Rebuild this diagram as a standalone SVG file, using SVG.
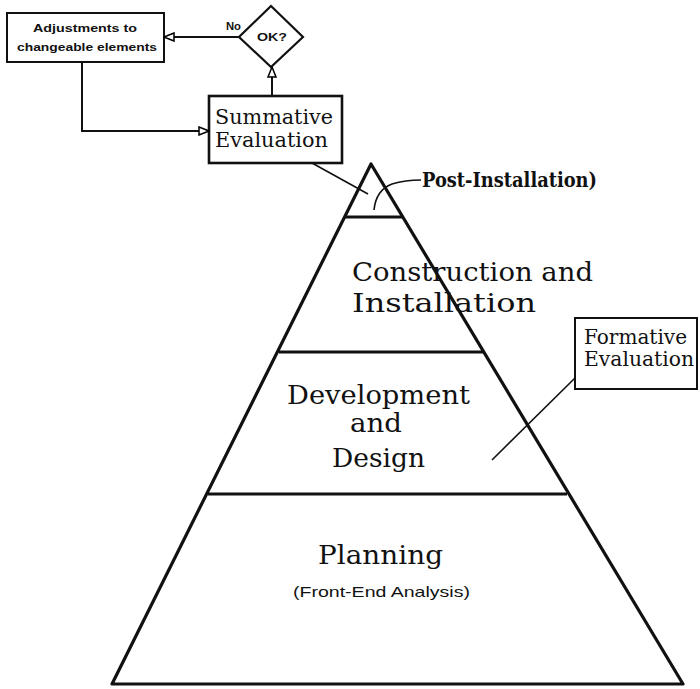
<svg xmlns="http://www.w3.org/2000/svg" width="700" height="689" viewBox="0 0 700 689">
<defs>
<marker id="arr" viewBox="0 0 12 10" refX="11" refY="5" markerWidth="12" markerHeight="10" markerUnits="userSpaceOnUse" orient="auto">
<path d="M1,1 L11,5 L1,9 Z" fill="#fff" stroke="#000" stroke-width="1.5"/>
</marker>
<style>
.edge{stroke:#111;stroke-width:3.2;fill:none;stroke-linejoin:round}
.band{stroke:#111;stroke-width:3;fill:none}
.thin{stroke:#111;stroke-width:1.6;fill:none}
.conn{stroke:#111;stroke-width:2;fill:none}
.big{font-family:"DejaVu Serif","Liberation Serif",serif;font-size:26px;fill:#111}
.mid{font-family:"DejaVu Serif","Liberation Serif",serif;font-size:20px;fill:#111}
.hand{font-family:"Liberation Sans",Arial,sans-serif;font-weight:bold;fill:#111}
.sans{font-family:"Liberation Sans",Arial,sans-serif;fill:#111}
</style>
</defs>
<rect width="700" height="689" fill="#fff"/>

<g id="pyramid">
<polygon class="edge" points="371,164 683,684 112,684"/>
<line class="band" x1="345" y1="217" x2="402" y2="217"/>
<line class="band" x1="279" y1="352" x2="484" y2="352"/>
<line class="band" x1="208" y1="494" x2="567" y2="494"/>
</g>

<g id="post-installation">
<path class="thin" d="M374,210 Q376,190 392,184 Q405,180 421,180"/>
<text class="mid" x="422" y="187" font-weight="bold" textLength="175" lengthAdjust="spacingAndGlyphs">Post-Installation)</text>
</g>

<g id="construction">
<text class="big" x="352" y="281" textLength="241" lengthAdjust="spacingAndGlyphs">Construction and</text>
<text class="big" x="352" y="312" textLength="184" lengthAdjust="spacingAndGlyphs">Installation</text>
</g>

<g id="development">
<text class="big" x="287" y="404" textLength="183" lengthAdjust="spacingAndGlyphs">Development</text>
<text class="big" x="350" y="432" textLength="52" lengthAdjust="spacingAndGlyphs">and</text>
<text class="big" x="332" y="467" textLength="93" lengthAdjust="spacingAndGlyphs">Design</text>
</g>

<g id="planning">
<text class="big" x="318" y="564" textLength="125" lengthAdjust="spacingAndGlyphs">Planning</text>
<text class="sans" x="293" y="597" font-size="15" textLength="177" lengthAdjust="spacingAndGlyphs">(Front-End Analysis)</text>
</g>

<g id="formative">
<rect x="575" y="318" width="122" height="71" fill="#fff" stroke="#111" stroke-width="2"/>
<text class="mid" x="584" y="344" font-size="16.5" textLength="103" lengthAdjust="spacingAndGlyphs">Formative</text>
<text class="mid" x="584" y="366" font-size="16.5" textLength="110" lengthAdjust="spacingAndGlyphs">Evaluation</text>
</g>

<g id="summative">
<rect x="209" y="96" width="133" height="67" fill="#fff" stroke="#111" stroke-width="2.6"/>
<text class="mid" x="215" y="124" font-size="21" textLength="118" lengthAdjust="spacingAndGlyphs">Summative</text>
<text class="mid" x="215" y="147" font-size="21" textLength="113" lengthAdjust="spacingAndGlyphs">Evaluation</text>
</g>

<g id="ok">
<polygon points="271,6 303,37 271,67 239,37" fill="#fff" stroke="#111" stroke-width="2.2"/>
<text class="hand" x="257" y="41" font-size="11" textLength="30" lengthAdjust="spacingAndGlyphs">OK?</text>
</g>

<g id="adjustments">
<rect x="7" y="13" width="157" height="49" fill="#fff" stroke="#111" stroke-width="2"/>
<text class="hand" x="33" y="32" font-size="11.5" textLength="104" lengthAdjust="spacingAndGlyphs">Adjustments to</text>
<text class="hand" x="17" y="51" font-size="11.5" textLength="140" lengthAdjust="spacingAndGlyphs">changeable elements</text>
</g>

<g id="connectors">
<line class="conn" x1="272" y1="96" x2="272" y2="67" marker-end="url(#arr)"/>
<line class="conn" x1="239" y1="37" x2="164" y2="37" marker-end="url(#arr)"/>
<text class="hand" x="226" y="30" font-size="11" textLength="15" lengthAdjust="spacingAndGlyphs">No</text>
<polyline class="conn" points="82,62 82,131 209,131" marker-end="url(#arr)"/>
<line class="thin" x1="312" y1="163" x2="368" y2="194"/>
<line class="thin" x1="492" y1="460" x2="575" y2="378"/>
</g>
</svg>
